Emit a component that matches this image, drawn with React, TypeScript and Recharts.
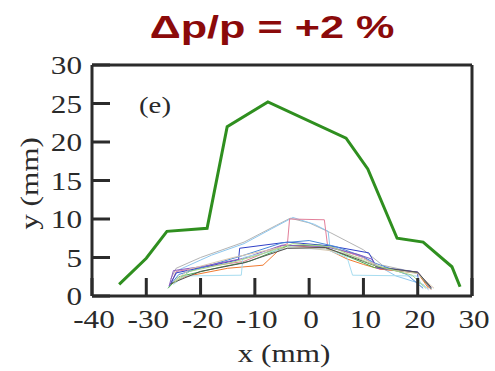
import React from 'react';
import { LineChart, Line, XAxis, YAxis, Label } from 'recharts';

// thick green trace
const mainX = [-35, -30, -26.2, -18.8, -15.1, -7.6, 6.8, 10.8, 16.2, 21, 26.3, 27.8];
const mainY = [1.5, 4.9, 8.4, 8.8, 22, 25.2, 20.5, 16.5, 7.5, 7, 3.8, 1.2];

// thin traces (one row per trace)
const traceX = [
  [-25.5, -24.5, -20, -12, -6, -3.5, 0, 4, 10, 13.5, 20, 22.5],
  [-25.5, -24, -18, -12, -7, -3, 1, 3.5, 3.8, 10, 12, 16, 21, 22],
  [-25.5, -24.5, -12, -4, -3.6, 2.8, 3.4, 10, 13, 20, 22.5],
  [-25.8, -24.5, -13, -12.8, -4, 4, 11, 12.4, 20, 20.1],
  [-25.5, -24, -12, -5, 0, 5, 10, 12, 18, 21],
  [-25.5, -23, -15, -8.5, -5.8, -4, 3, 7, 10, 13, 20, 22],
  [-26, -24, -16, -11, -4, 2, 9, 12, 20, 22.5],
  [-25.8, -25, -20, -12, -5, 3, 9, 11.5, 12.5, 20, 22.5],
  [-25, -23, -12.5, -12.2, -4, 3, 7, 8, 19.8, 21],
  [-25, -22, -14, -6, 0, 5, 10, 14, 20, 23],
  [-25.5, -20, -12, -4, 3, 10, 13, 20, 22.5],
  [-25, -22, -14, -9, -3, 4, 8, 12, 19, 21.5],
];
const traceY = [
  [2.2, 3.6, 5, 7, 9.2, 10.1, 9.5, 8.2, 6, 4, 3, 1],
  [1.8, 3.4, 5.3, 6.8, 8.7, 10.2, 9.3, 8.4, 6.5, 5, 4.2, 2.6, 1.5, 0.8],
  [1.5, 3.2, 4.5, 6.8, 10, 9.9, 6.5, 5, 3.5, 3, 0.8],
  [1.2, 3, 4.7, 6.2, 7, 6.5, 5.6, 3.8, 3.1, 0.8],
  [1.5, 2.8, 5.3, 6.9, 7.2, 6.4, 5.1, 4.3, 2.8, 1],
  [1.5, 2.5, 3.6, 4, 5.8, 6.6, 6.2, 4.8, 4.1, 3.5, 3, 1],
  [1, 2.5, 3.8, 4.5, 6.5, 6.6, 4.6, 3.7, 3, 0.9],
  [1.3, 3.3, 3.8, 4.9, 6.6, 6.4, 5.4, 4.8, 3.6, 3.1, 1],
  [1.5, 2.6, 2.7, 5, 6.2, 6.1, 5, 2.7, 2.6, 1.2],
  [1.8, 3.5, 5, 6.2, 6.2, 5.8, 4.8, 3.6, 2.9, 1],
  [1.6, 3.2, 4.3, 6.2, 6.3, 4.5, 3.7, 3.1, 1.1],
  [1.7, 3.2, 4.4, 5.4, 6.8, 6.4, 5.2, 4, 2.7, 1],
];

const xTicks = [-40, -30, -20, -10, 0, 10, 20, 30];
const yTicks = [0, 5, 10, 15, 20, 25, 30];

const traceColors = [
  '#b4b4b4', '#8ec7ee', '#e27f9a', '#3040c8', '#4a8ad8', '#f07a30',
  '#4caf50', '#8a5cc0', '#a8ddf0', '#d9c8b0', '#505050', '#a6d88a',
];

const zip = (xs: number[], ys: number[]) => xs.map((x, i) => ({ x, y: ys[i] }));
const mainData = zip(mainX, mainY);
const traceData = traceX.map((xs, i) => zip(xs, traceY[i]));

const SERIF = '"Liberation Serif", "Times New Roman", serif';
const INK = '#2a2a2a';
const LINE_INK = '#2b2b2b';
const frame = { stroke: LINE_INK, strokeWidth: 3 };
const X_DOM = [-40, 30];
const Y_DOM = [0, 30];
const TICK_LEN = 18;
const X_GAP = 15; // label gap below the bottom axis
const Y_GAP = 10; // label gap left of the left axis

// bottom: inward tick + label
const XTick = ({ x, y, payload }: any) => (
  <g>
    <line x1={x} x2={x} y1={y - X_GAP} y2={y - X_GAP - TICK_LEN} stroke={LINE_INK} strokeWidth={3} />
    <text transform={`translate(${x + 2},${y + 17}) scale(1.2,1)`} textAnchor="middle"
      fontFamily={SERIF} fontSize={26} fill={INK}>{payload.value}</text>
  </g>
);

// left: inward tick + label
const YTick = ({ x, y, payload }: any) => (
  <g>
    <line x1={x + Y_GAP} x2={x + Y_GAP + TICK_LEN} y1={y} y2={y} stroke={LINE_INK} strokeWidth={3} />
    <text transform={`translate(${x},${y + 9}) scale(1.2,1)`} textAnchor="end"
      fontFamily={SERIF} fontSize={26} fill={INK}>{payload.value}</text>
  </g>
);

// top and right: inward ticks only
const TopTick = ({ x, y }: any) => (
  <line x1={x} x2={x} y1={y} y2={y + TICK_LEN} stroke={LINE_INK} strokeWidth={3} />
);
const RightTick = ({ x, y }: any) => (
  <line x1={x} x2={x - TICK_LEN} y1={y} y2={y} stroke={LINE_INK} strokeWidth={3} />
);

const XLabel = ({ viewBox }: any) => (
  <text transform={`translate(${viewBox.x + viewBox.width / 2 + 2},${viewBox.y + 66}) scale(1.2,1)`}
    textAnchor="middle" fontFamily={SERIF} fontSize={26} fill={INK}>x (mm)</text>
);

const YLabel = ({ viewBox }: any) => (
  <text transform={`translate(${viewBox.x + 6},${viewBox.y + viewBox.height / 2 + 3}) rotate(-90) scale(1.2,1)`}
    textAnchor="middle" fontFamily={SERIF} fontSize={26} fill={INK}>y (mm)</text>
);

export default function App() {
  return (
    <div style={{ position: 'absolute', left: 0, top: 0, width: 495, height: 371, background: '#fff' }}>
      <div style={{
        position: 'absolute', left: 272, top: 11, transform: 'translateX(-50%) scaleX(1.35)',
        whiteSpace: 'nowrap', fontFamily: '"Liberation Sans", Arial, sans-serif', fontWeight: 700,
        fontSize: 32, lineHeight: 1, color: '#8B0A0A',
      }}>
        Δp/p = +2 %
      </div>
      <div style={{ position: 'absolute', top: 0, left: 0 }}>
        <LineChart width={495} height={371} margin={{ top: 64, right: 22, bottom: 35, left: 32 }}>
          <XAxis xAxisId="b" dataKey="x" type="number" domain={X_DOM} ticks={xTicks}
            orientation="bottom" height={40} axisLine={frame} tickLine={false}
            tickSize={0} tickMargin={X_GAP} tick={<XTick />} interval={0}>
            <Label content={<XLabel />} />
          </XAxis>
          <XAxis xAxisId="t" dataKey="x" type="number" domain={X_DOM} ticks={xTicks}
            orientation="top" height={1} axisLine={frame} tickLine={false}
            tickSize={0} tickMargin={0} tick={<TopTick />} interval={0} />
          <YAxis yAxisId="l" type="number" domain={Y_DOM} ticks={yTicks}
            orientation="left" width={60} axisLine={frame} tickLine={false}
            tickSize={0} tickMargin={Y_GAP} tick={<YTick />} interval={0}>
            <Label content={<YLabel />} />
          </YAxis>
          <YAxis yAxisId="r" type="number" domain={Y_DOM} ticks={yTicks}
            orientation="right" width={1} axisLine={frame} tickLine={false}
            tickSize={0} tickMargin={0} tick={<RightTick />} interval={0} />

          {traceData.map((d, i) => (
            <Line key={`trace${i}`} xAxisId="b" yAxisId="l" data={d} dataKey="y" type="linear"
              stroke={traceColors[i]} strokeWidth={1} dot={false} isAnimationActive={false} />
          ))}
          <Line key="main" xAxisId="b" yAxisId="l" data={mainData} dataKey="y" type="linear"
            stroke="#2f8f1f" strokeWidth={3} dot={false} isAnimationActive={false} />
        </LineChart>
      </div>
      <div style={{
        position: 'absolute', left: 155, top: 93, transform: 'translateX(-50%) scaleX(1.2)',
        whiteSpace: 'nowrap', fontFamily: SERIF, fontSize: 24, lineHeight: 1, color: INK,
      }}>
        (e)
      </div>
    </div>
  );
}
